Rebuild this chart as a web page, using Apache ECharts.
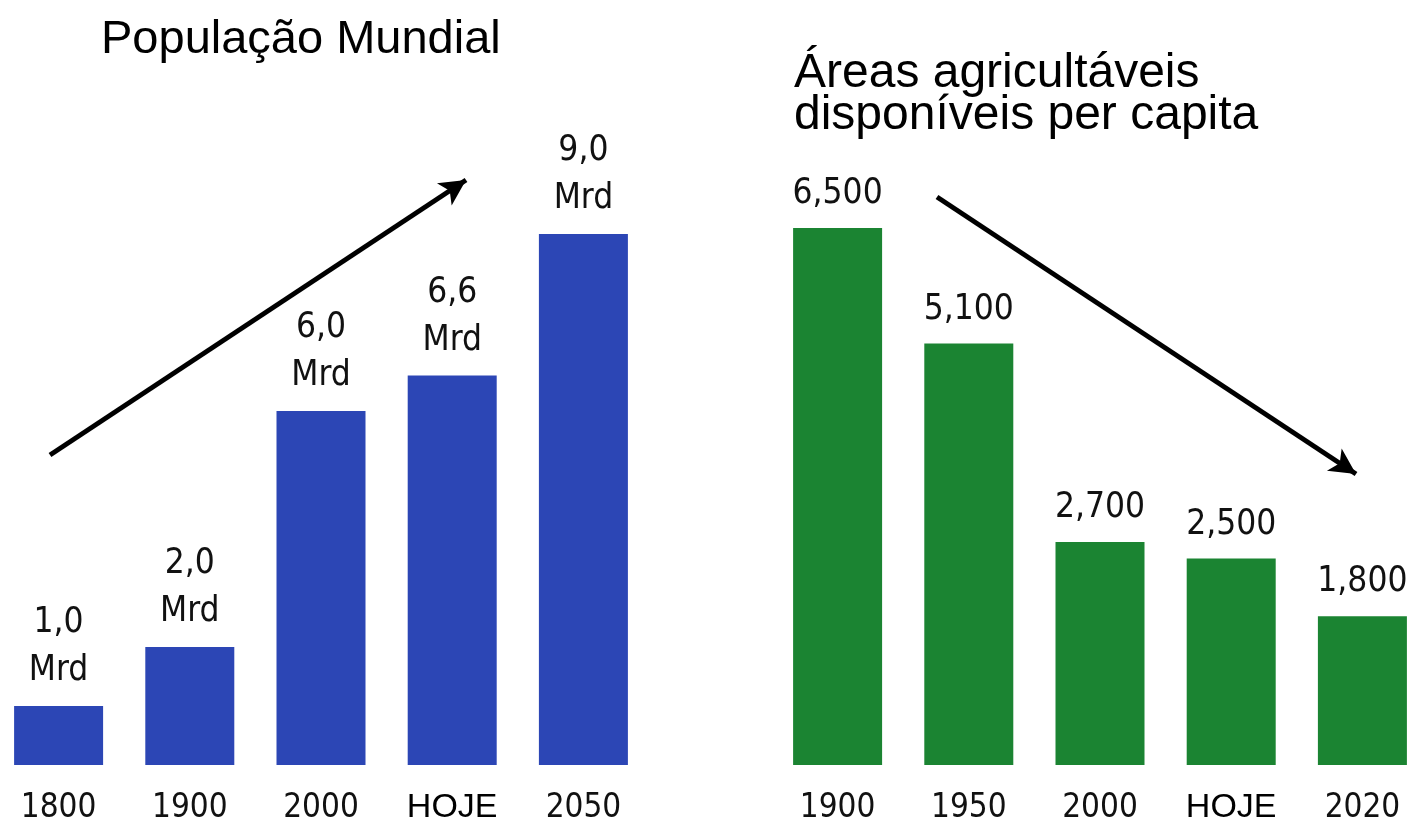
<!DOCTYPE html>
<html>
<head>
<meta charset="utf-8">
<script src="https://cdn.jsdelivr.net/npm/echarts@6/dist/echarts.min.js"></script>
<style>
  html, body { margin: 0; padding: 0; background: #fff; }
  #main { width: 1413px; height: 821px; }
</style>
</head>
<body>
<div id="main"></div>
<script>
// population (left)
const popYears = ["1800", "1900", "2000", "HOJE", "2050"];
const popValues = [1.0, 2.0, 6.0, 6.6, 9.0];
// arable land per capita (right)
const landYears = ["1900", "1950", "2000", "HOJE", "2020"];
const landValues = [6500, 5100, 2700, 2500, 1800];

const labelFont = "'DejaVu Sans Condensed', 'DejaVu Sans', sans-serif";
const titleFont = "'Liberation Sans', Arial, sans-serif";

const chart = echarts.init(document.getElementById("main"));

const catLabel = {
  interval: 0,
  fontFamily: labelFont,
  fontSize: 33,
  color: "#111",
  lineHeight: 34,
  margin: 26,
  formatter: v => (v === "HOJE" ? "{h|" + v + "}" : v),
  rich: {
    h: { fontFamily: titleFont, fontSize: 34, color: "#000", lineHeight: 34 }
  }
};

const arrowLine = (from, to) => ({
  silent: true,
  symbol: ["none", "arrow"],
  symbolSize: [20, 26],
  label: { show: false },
  lineStyle: { color: "#000", width: 5, type: "solid" },
  data: [[{ x: from[0], y: from[1] }, { x: to[0], y: to[1] }]]
});

chart.setOption({
  backgroundColor: "#fff",
  animation: false,
  title: [
    {
      text: "População Mundial",
      left: 96,
      top: 9,
      textStyle: { fontFamily: titleFont, fontSize: 47, fontWeight: "normal", color: "#000", lineHeight: 52 }
    },
    {
      text: "Áreas agricultáveis\ndisponíveis per capita",
      left: 789,
      top: 48,
      textStyle: { fontFamily: titleFont, fontSize: 48, fontWeight: "normal", color: "#000", lineHeight: 42 }
    }
  ],
  grid: [
    { left: -7, width: 656, top: 175, bottom: 56, outerBoundsMode: "none" },
    { left: 772, width: 656, top: 104, bottom: 56, outerBoundsMode: "none" }
  ],
  xAxis: [
    {
      gridIndex: 0, type: "category", data: popYears,
      axisLine: { show: false }, axisTick: { show: false },
      axisLabel: catLabel
    },
    {
      gridIndex: 1, type: "category", data: landYears,
      axisLine: { show: false }, axisTick: { show: false },
      axisLabel: catLabel
    }
  ],
  yAxis: [
    { gridIndex: 0, type: "value", min: 0, max: 10, show: false },
    { gridIndex: 1, type: "value", min: 0, max: 8000, show: false }
  ],
  series: [
    {
      type: "bar",
      xAxisIndex: 0, yAxisIndex: 0,
      data: popValues,
      barWidth: 89,
      itemStyle: { color: "#2c46b5" },
      label: {
        show: true,
        position: "top",
        distance: 11,
        fontFamily: labelFont,
        fontSize: 35,
        lineHeight: 48,
        color: "#111",
        formatter: p => p.value.toFixed(1).replace(".", ",") + "\nMrd"
      },
      markLine: arrowLine([50, 455], [466, 180])
    },
    {
      type: "bar",
      xAxisIndex: 1, yAxisIndex: 1,
      data: landValues,
      barWidth: 89,
      itemStyle: { color: "#1b8432" },
      label: {
        show: true,
        position: "top",
        distance: 17,
        fontFamily: labelFont,
        fontSize: 35,
        lineHeight: 34,
        color: "#111",
        formatter: p => p.value.toLocaleString("en-US")
      },
      markLine: arrowLine([937, 197], [1356, 474])
    }
  ]
});
</script>
</body>
</html>
